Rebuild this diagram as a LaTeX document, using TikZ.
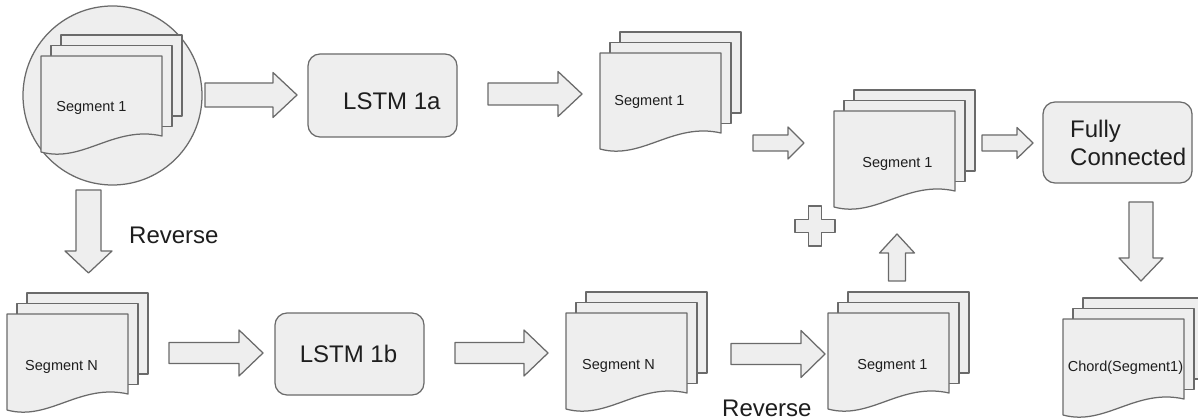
\documentclass[tikz,border=0pt]{standalone}
\usepackage{fontspec}
\setmainfont{Liberation Sans}
\usetikzlibrary{calc}

\definecolor{shapefill}{HTML}{EEEEEE}
\definecolor{shapeline}{HTML}{6A6A6A}
\definecolor{labeltext}{HTML}{1E1E1E}

\tikzset{
  grayshape/.style={draw=shapeline, fill=shapefill, line width=1.25pt, line join=round},
  arrowshape/.style={grayshape},
  docfont/.style={font=\fontsize{14.5}{17}\selectfont, text=labeltext, inner sep=0pt},
  bigfont/.style={font=\fontsize{24}{28}\selectfont, text=labeltext, inner sep=0pt},
  roundbox/.style={grayshape, rectangle, rounded corners=12pt, inner sep=0pt},
}

% Block arrow from coordinate #1 to tip #2: shaft width #3, head width #4, head length #5 (pt)
\newcommand\blockarrow[5]{%
  \draw[arrowshape] let \p1=($(#2)-(#1)$), \n1={veclen(\x1,\y1)}, \n2={atan2(\y1,\x1)} in
    [shift={(#1)}, rotate=\n2]
    (0pt,{#3pt/2}) -- ({\n1*1pt-#5pt},{#3pt/2}) -- ({\n1*1pt-#5pt},{#4pt/2})
    -- ({\n1*1pt},0pt) -- ({\n1*1pt-#5pt},{-#4pt/2}) -- ({\n1*1pt-#5pt},{-#3pt/2})
    -- (0pt,{-#3pt/2}) -- cycle;
}

% Stack of three pages; front page has top-left corner (#2,#3), label #4 offset by (#5)
\newcommand\docstack[5]{%
  \begin{scope}[shift={(#2,#3)}]
    \draw[grayshape] (20,-21) rectangle ++(121,81);
    \draw[grayshape] (10,-10.5) rectangle ++(121,81);
    \draw[grayshape] (0,0) -- (121,0) -- (121,80)
      .. controls (72.6,69) and (42,107.5) .. (0,96) -- cycle;
  \end{scope}
  \node[docfont] (#1) at ($({#2+60.5},{#3+52})+(#5)$) {#4};
}

\begin{document}
\begin{tikzpicture}[x=1pt, y=-1pt]
  \fill[white] (0,0) rectangle (1198,419);
  \useasboundingbox (0,0) rectangle (1198,419);

  % input segment, highlighted
  \node[grayshape, circle, minimum size=179pt, inner sep=0pt] (src) at (112.5,95.5) {};
  \docstack{segin}{41}{56}{Segment 1}{-10,0}

  % forward branch
  \node[roundbox, minimum width=149pt, minimum height=83pt] (lstma) at (382.5,95.5) {};
  \node[bigfont, anchor=base west] (lstmalabel) at (343,110) {LSTM 1a};
  \docstack{outa}{600}{53}{Segment 1}{-11,-3}

  % merged result
  \docstack{merged}{834}{111}{Segment 1}{3,1}
  \begin{scope}[shift={(815,226)}]
    \draw[grayshape] (-6.5,-20) -- (6.5,-20) -- (6.5,-6.5) -- (20,-6.5) -- (20,6.5)
      -- (6.5,6.5) -- (6.5,20) -- (-6.5,20) -- (-6.5,6.5) -- (-20,6.5) -- (-20,-6.5)
      -- (-6.5,-6.5) -- cycle;
  \end{scope}

  % classifier
  \node[roundbox, minimum width=149pt, minimum height=81pt] (fc) at (1117.5,142.5) {};
  \node[bigfont, anchor=base west] (fclabel1) at (1070,138) {Fully};
  \node[bigfont, anchor=base west] (fclabel2) at (1070,166) {Connected};
  \docstack{chord}{1063}{319}{Chord(Segment1)}{2,-3}

  % backward branch
  \docstack{segn}{7}{314}{Segment N}{-6,1}
  \node[roundbox, minimum width=149pt, minimum height=82pt] (lstmb) at (349.5,354) {};
  \node[bigfont, anchor=base] (lstmblabel) at (348.5,362) {LSTM 1b};
  \docstack{outb}{566}{313}{Segment N}{-8,1}
  \docstack{outbrev}{828}{313}{Segment 1}{4,1}

  \node[bigfont, anchor=base west] (rev1) at (129,244) {Reverse};
  \node[bigfont, anchor=base west] (rev2) at (722,416) {Reverse};

  % arrow end points
  \coordinate (a1s) at (205,95);    \coordinate (a1t) at (297,95);
  \coordinate (a2s) at (488,94);    \coordinate (a2t) at (582,94);
  \coordinate (a3s) at (753,143);   \coordinate (a3t) at (804,143);
  \coordinate (a4s) at (982,143);   \coordinate (a4t) at (1033,143);
  \coordinate (a5s) at (88.5,190);  \coordinate (a5t) at (88.5,273);
  \coordinate (a6s) at (169,353);   \coordinate (a6t) at (263,353);
  \coordinate (a7s) at (455,353);   \coordinate (a7t) at (548,353);
  \coordinate (a8s) at (731,354);   \coordinate (a8t) at (825,354);
  \coordinate (a9s) at (897,281);   \coordinate (a9t) at (897,234);
  \coordinate (a10s) at (1141,202); \coordinate (a10t) at (1141,281);

  \blockarrow{a1s}{a1t}{24}{45}{24}
  \blockarrow{a2s}{a2t}{22}{45}{24}
  \blockarrow{a3s}{a3t}{16}{32}{16}
  \blockarrow{a4s}{a4t}{16}{31}{16}
  \blockarrow{a5s}{a5t}{25}{47}{22}
  \blockarrow{a6s}{a6t}{21}{46}{24}
  \blockarrow{a7s}{a7t}{21}{46}{24}
  \blockarrow{a8s}{a8t}{21}{47}{24}
  \blockarrow{a9s}{a9t}{17}{35}{19}
  \blockarrow{a10s}{a10t}{24}{44}{23}
\end{tikzpicture}
\end{document}
